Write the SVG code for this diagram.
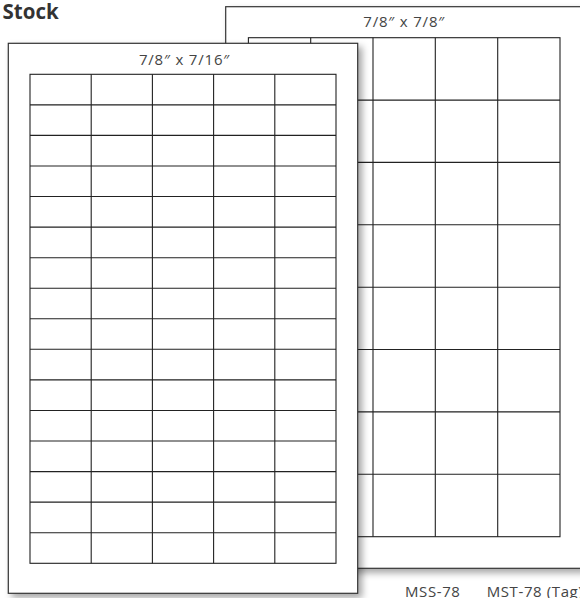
<svg xmlns="http://www.w3.org/2000/svg" width="580" height="598" viewBox="0 0 580 598">
  <defs>
    <filter id="shadow" x="-5%" y="-5%" width="115%" height="115%">
      <feDropShadow dx="4" dy="4" stdDeviation="3.5" flood-color="#000" flood-opacity="0.35"/>
    </filter>
    <style>
      .sheet { fill: #fff; stroke: #333; stroke-width: 1.2; }
      .grid { fill: none; stroke: #222; stroke-width: 1.1; }
      .lbl { font-family: "Open Sans", "Liberation Sans", sans-serif; font-size: 15px; letter-spacing: 0.8px; fill: #444; text-anchor: middle; }
      .code { font-family: "Open Sans", "Liberation Sans", sans-serif; font-size: 15px; letter-spacing: 0.6px; fill: #444; }
      .title { font-family: "Open Sans", "Liberation Sans", sans-serif; font-size: 20.5px; font-weight: bold; fill: #333; }
    </style>
  </defs>
  <rect width="580" height="598" fill="#fff"/>

  <text class="title" x="2.5" y="18.5">Stock</text>

  <g id="back-sheet">
    <rect class="sheet" x="225.7" y="6.7" width="357" height="561.6" filter="url(#shadow)"/>
    <text class="lbl" x="404.2" y="27">7/8″ x 7/8″</text>
    <g class="grid">
      <rect x="248.4" y="37.7" width="311.6" height="499"/>
      <path d="M310.7 37.7V536.7M373 37.7V536.7M435.3 37.7V536.7M497.7 37.7V536.7
               M248.4 100.1H560M248.4 162.4H560M248.4 224.8H560M248.4 287.2H560
               M248.4 349.5H560M248.4 411.9H560M248.4 474.3H560"/>
    </g>
  </g>

  <g id="front-sheet">
    <rect class="sheet" x="8.3" y="43.3" width="349.4" height="550" filter="url(#shadow)"/>
    <text class="lbl" x="184.5" y="65.3">7/8″ x 7/16″</text>
    <g class="grid">
      <rect x="30" y="74.3" width="306" height="489"/>
      <path d="M91.2 74.3V563.3M152.4 74.3V563.3M213.6 74.3V563.3M274.8 74.3V563.3
               M30 104.9H336M30 135.4H336M30 166H336M30 196.5H336M30 227.1H336
               M30 257.7H336M30 288.2H336M30 318.8H336M30 349.3H336M30 379.9H336
               M30 410.5H336M30 441H336M30 471.6H336M30 502.1H336M30 532.7H336"/>
    </g>
  </g>

  <g id="codes">
    <text class="code" x="405" y="596.5">MSS-78</text>
    <text class="code" x="486.7" y="596.5">MST-78 (Tag)</text>
  </g>
</svg>
